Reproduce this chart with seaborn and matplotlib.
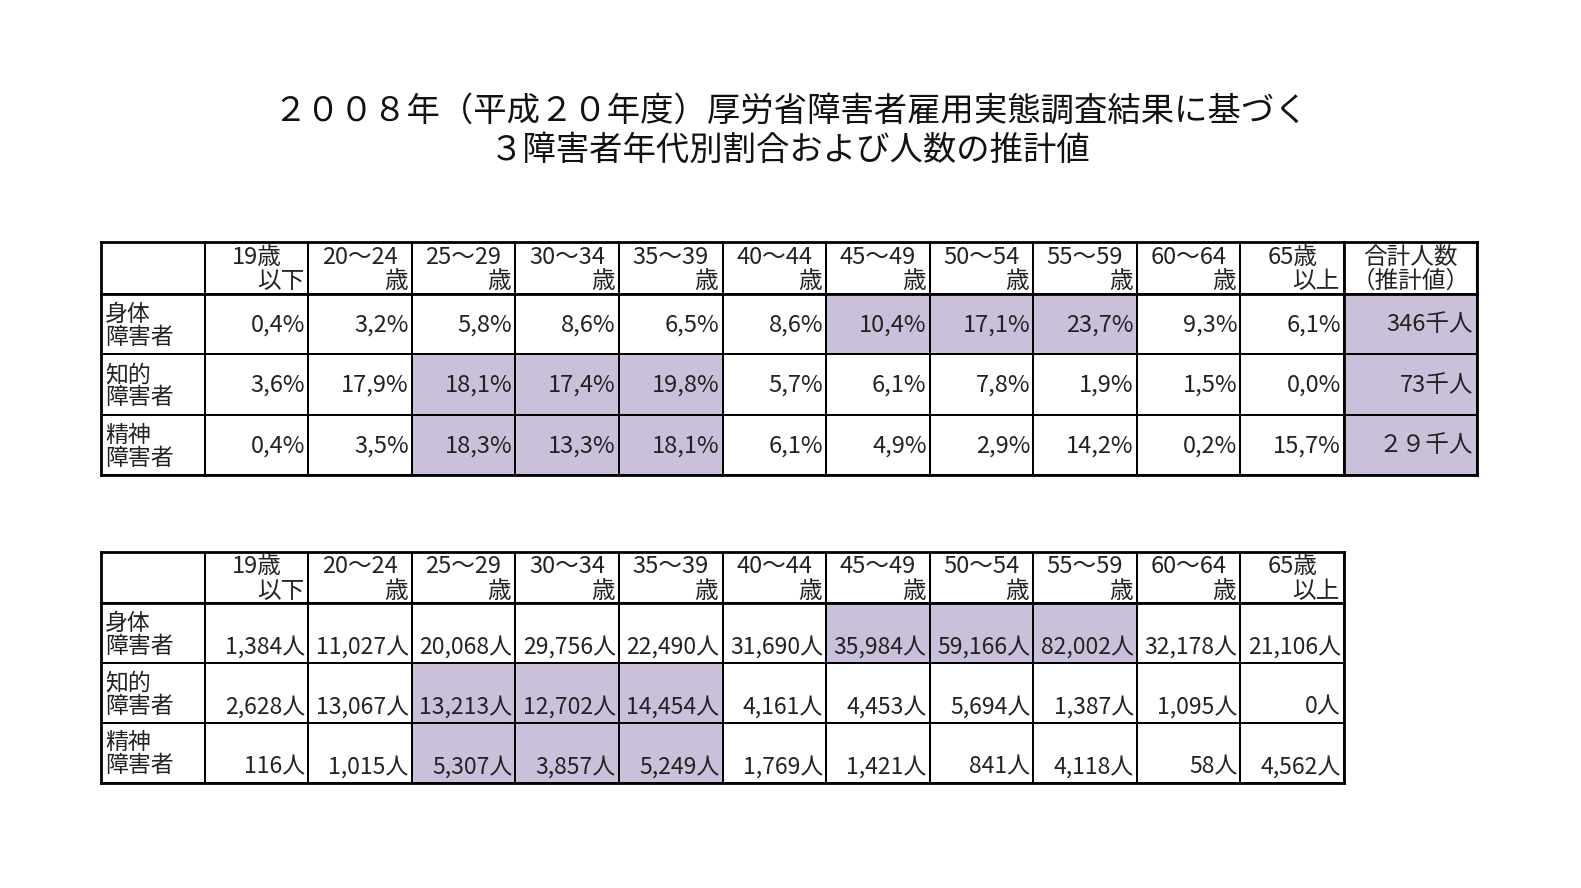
import numpy as np
import pandas as pd
import seaborn as sns
import matplotlib.pyplot as plt
from matplotlib.colors import ListedColormap

sns.set_theme(style='white')
plt.rcParams['font.family'] = ['Noto Sans CJK JP', 'DejaVu Sans']

# 데이터
title = '２００８年（平成２０年度）厚労省障害者雇用実態調査結果に基づく\n３障害者年代別割合および人数の推計値'
age_top = ['19歳', '20～24', '25～29', '30～34', '35～39', '40～44',
           '45～49', '50～54', '55～59', '60～64', '65歳']
age_bottom = ['以下', '歳', '歳', '歳', '歳', '歳', '歳', '歳', '歳', '歳', '以上']
groups = ['身体\n障害者', '知的\n障害者', '精神\n障害者']

rate_body = [0.4, 3.2, 5.8, 8.6, 6.5, 8.6, 10.4, 17.1, 23.7, 9.3, 6.1]
rate_intel = [3.6, 17.9, 18.1, 17.4, 19.8, 5.7, 6.1, 7.8, 1.9, 1.5, 0.0]
rate_mental = [0.4, 3.5, 18.3, 13.3, 18.1, 6.1, 4.9, 2.9, 14.2, 0.2, 15.7]
total_labels = ['346千人', '73千人', '２９千人']

count_body = [1384, 11027, 20068, 29756, 22490, 31690, 35984, 59166, 82002, 32178, 21106]
count_intel = [2628, 13067, 13213, 12702, 14454, 4161, 4453, 5694, 1387, 1095, 0]
count_mental = [116, 1015, 5307, 3857, 5249, 1769, 1421, 841, 4118, 58, 4562]

# 강조 셀 (연령 인덱스)
hl_cols = [[6, 7, 8], [2, 3, 4], [2, 3, 4]]

W, H = 1581, 888
fig = plt.figure(figsize=(W / 100, H / 100), dpi=100)
fig.patch.set_facecolor('white')
cmap = ListedColormap(['white', '#cbc0da'])
TXT = '#222222'


def fax(x0, y0, x1, y1):
    return fig.add_axes([x0 / W, 1 - y1 / H, (x1 - x0) / W, (y1 - y0) / H])


def draw_grid(ax, mat):
    sns.heatmap(pd.DataFrame(mat), ax=ax, cmap=cmap, vmin=0, vmax=1, cbar=False,
                linewidths=1.2, linecolor='black', xticklabels=False, yticklabels=False)
    for sp in ax.spines.values():
        sp.set_visible(True)
        sp.set_linewidth(2)
        sp.set_color('black')


def header(ax, tops, bottoms, offset=1, center_second=False):
    draw_grid(ax, np.zeros((1, len(tops) + offset)))
    for j, (a, b) in enumerate(zip(tops, bottoms)):
        x = j + offset
        ax.text(x + 0.5, 0.3, a, ha='center', va='center', fontsize=17, color=TXT)
        if center_second:
            ax.text(x + 0.5, 0.77, b, ha='center', va='center', fontsize=17, color=TXT)
        else:
            ax.text(x + 0.96, 0.77, b, ha='right', va='center', fontsize=17, color=TXT)


def body(ax, rows, ypos, fs):
    mat = np.zeros((3, 12))
    for i, cols in enumerate(hl_cols):
        for c in cols:
            mat[i, c + 1] = 1
    draw_grid(ax, mat)
    for i, row in enumerate(rows):
        ax.text(0.04, i + 0.53, groups[i], ha='left', va='center', fontsize=16.5,
                linespacing=1.0, color=TXT)
        for j, s in enumerate(row):
            ax.text(j + 1.97, i + ypos, s, ha='right', va='center', fontsize=fs, color=TXT)


x0, xc, x1 = 101, 1344, 1477

# 표 1 : 비율
rates = [rate_body, rate_intel, rate_mental]
rate_txt = [[('%.1f%%' % v).replace('.', ',') for v in r] for r in rates]
header(fax(x0, 242, xc, 293.5), age_top, age_bottom)
body(fax(x0, 293.5, xc, 475), rate_txt, 0.52, 17)

axh = fax(xc, 242, x1, 293.5)
header(axh, ['合計人数'], ['（推計値）'], offset=0, center_second=True)
axt = fax(xc, 293.5, x1, 475)
draw_grid(axt, np.ones((3, 1)))
for i, s in enumerate(total_labels):
    axt.text(0.97, i + 0.52, s, ha='right', va='center', fontsize=17, color=TXT)

# 표 2 : 인원수
counts = [count_body, count_intel, count_mental]
count_txt = [['{:,}人'.format(v) for v in r] for r in counts]
header(fax(x0, 551.5, xc, 603), age_top, age_bottom)
body(fax(x0, 603, xc, 782.5), count_txt, 0.74, 16.5)

fig.text(0.5, 1 - 131 / H, title, ha='center', va='center', fontsize=24,
         linespacing=1.15, color='#111111')

fig.savefig('out.png', dpi=100)
